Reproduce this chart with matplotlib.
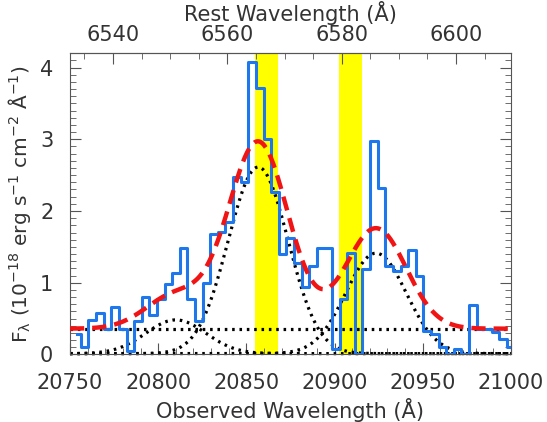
import numpy as np
import matplotlib
matplotlib.use('Agg')
import matplotlib.pyplot as plt
from matplotlib.ticker import MultipleLocator, FixedLocator

# observed spectrum (regular grid, 58 pixels from 20754 to 21000 A)
wave = np.linspace(20754.0, 21000.0, 58)
flux = [0.28, 0.11, 0.48, 0.58, 0.35, 0.66, 0.35, 0.05, 0.46, 0.80,
        0.55, 0.78, 0.98, 1.13, 1.49, 0.78, 0.46, 0.99, 1.68, 1.71,
        1.85, 2.48, 2.40, 4.07, 3.71, 3.01, 2.27, 1.40, 1.63, 1.27,
        0.94, 1.24, 1.48, 1.49, 0.07, 0.78, 1.42, 0.01, 1.19, 2.97,
        2.32, 1.24, 1.16, 1.24, 1.46, 1.10, 0.33, 0.28, 0.11, 0.01,
        0.07, 0.01, 0.69, 0.35, 0.35, 0.31, 0.22, 0.11]

# fitted model: [NII]6548, Halpha, [NII]6584 plus flat continuum
line_centers = [20810.0, 20856.7, 20923.5]
line_amps = [0.47, 2.60, 1.40]
line_sigmas = [17.0, 17.0, 17.1]
continuum = 0.36

# sky line regions
sky_bands = [(20855.0, 20868.0), (20902.7, 20915.7)]

# top axis mapping (rest <-> observed)
rest_ticks = [6540, 6560, 6580, 6600]
rest_ref, obs_ref, scale = 6540.0, 20774.4, 3.2417

text_col = '#333333'
frame_col = '#555555'
plt.rcParams['font.family'] = ['DejaVu Sans']
plt.rcParams['mathtext.default'] = 'regular'
plt.rcParams['font.size'] = 15

fig = plt.figure(figsize=(5.47, 4.22), dpi=100)
ax = fig.add_axes([0.128, 0.160, 0.806, 0.714])

for lo, hi in sky_bands:
    ax.axvspan(lo, hi, color='#ffff00', lw=0, zorder=0)

ax.step(wave, flux, where='mid', color='#1e78eb', lw=2.2, zorder=3)

xm = np.linspace(20750, 21000, 800)
model = np.full_like(xm, continuum)
dots = (0, (0.8, 1.5))
for c, a, s in zip(line_centers, line_amps, line_sigmas):
    g = a * np.exp(-0.5 * ((xm - c) / s) ** 2)
    model += g
    ax.plot(xm, g + 0.012, color='black', lw=2.3, ls=dots, zorder=2, clip_on=False)
ax.plot(xm, np.full_like(xm, continuum), color='black', lw=2.3, ls=dots, zorder=2)
ax.plot(xm, model, color='#f01414', lw=3.2, ls=(0, (3.2, 1.8)), zorder=4)

ax.set_xlim(20750, 21000)
ax.set_ylim(0, 4.2)
ax.xaxis.set_major_locator(MultipleLocator(50))
ax.xaxis.set_minor_locator(MultipleLocator(10))
ax.yaxis.set_major_locator(MultipleLocator(1))
ax.yaxis.set_minor_locator(MultipleLocator(0.1))
ax.tick_params(which='both', direction='in', top=False, right=True,
               color=frame_col, labelcolor=text_col)
ax.tick_params(which='major', length=8, width=0.8)
ax.tick_params(which='minor', length=4, width=0.6)
ax.tick_params(axis='x', pad=13)
ax.tick_params(axis='y', pad=12)
for sp in ax.spines.values():
    sp.set_color(frame_col)
    sp.set_linewidth(0.8)

ax.set_xlabel('Observed Wavelength (Å)', color=text_col, labelpad=4)
ax.set_ylabel(r'F$_\lambda$ (10$^{-18}$ erg s$^{-1}$ cm$^{-2}$ Å$^{-1}$)',
              color=text_col, fontsize=14.5, labelpad=5)

secax = ax.secondary_xaxis(
    'top',
    functions=(lambda o: rest_ref + (o - obs_ref) / scale,
               lambda r: obs_ref + (r - rest_ref) * scale))
secax.xaxis.set_major_locator(FixedLocator(rest_ticks))
secax.xaxis.set_minor_locator(FixedLocator(np.arange(6535, 6610, 5)))
secax.tick_params(which='both', direction='in', color=frame_col, labelcolor=text_col, pad=6)
secax.tick_params(which='major', length=8, width=0.8)
secax.tick_params(which='minor', length=4, width=0.6)
secax.spines['top'].set_color(frame_col)
secax.spines['top'].set_linewidth(0.8)
secax.set_xlabel('Rest Wavelength (Å)', color=text_col, labelpad=3)

fig.savefig('out.png', dpi=100)
